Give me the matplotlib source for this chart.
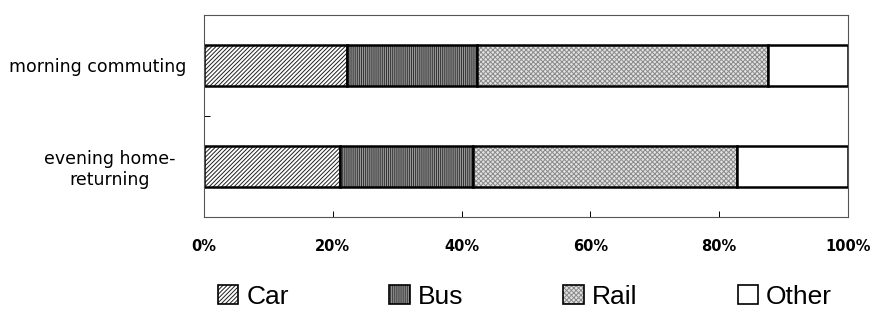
import numpy as np
import matplotlib.pyplot as plt
from matplotlib.colors import to_rgba


categories = ['evening home-\nreturning', 'morning commuting']
modes = ['Car', 'Bus', 'Rail', 'Other']
car = [21.1, 22.2]
bus = [20.6, 20.2]
rail = [41.1, 45.2]
other = [17.2, 12.4]
x_ticks = [0, 20, 40, 60, 80, 100]
x_labels = ['0%', '20%', '40%', '60%', '80%', '100%']

fills = ['white', '#9a9a9a', '#e2e2e2', 'white']
hatches = ['////////', '||||||||', 'xxxxxxx', '']
hatch_cols = ['#202020', '#303030', '#8a8a8a', 'black']

plt.rcParams['hatch.linewidth'] = 0.7

fig = plt.figure(figsize=(8.71, 3.09), dpi=100)
ax = fig.add_axes([204 / 871, 1 - 217 / 309, 644 / 871, 202 / 309])

y = np.arange(len(categories))
left = np.zeros(len(categories))
handles = []
for name, vals, fc, h, hc in zip(modes, [car, bus, rail, other], fills, hatches, hatch_cols):
    ax.barh(y, vals, left=left, height=0.41, color=fc, hatch=h,
            edgecolor=hc, linewidth=0)
    ax.barh(y, vals, left=left, height=0.41, fill=False,
            edgecolor='black', linewidth=1.8)
    p = plt.Rectangle((0, 0), 1, 1, facecolor=fc, hatch=h,
                      edgecolor='black', linewidth=1.2, label=name)
    # keep the hatch colour of the bars in the legend box
    p._hatch_color = to_rgba(hc)
    handles.append(p)
    left += np.array(vals)

ax.set_xlim(0, 100)
ax.set_ylim(-0.5, 1.5)
ax.set_xticks(x_ticks)
ax.set_xticklabels(x_labels, fontsize=10.5, fontweight='bold')
ax.set_yticks(y)
ax.set_yticklabels(categories, fontsize=12.5, linespacing=1.2)
label_x = [-0.146, -0.165]
for lab, lx in zip(ax.get_yticklabels(), label_x):
    lab.set_horizontalalignment('center')
    lab.set_x(lx)
ax.set_yticks([0.5], minor=True)
ax.tick_params(axis='y', which='major', length=0, pad=0)
ax.tick_params(axis='y', which='minor', direction='in', length=4, width=0.7)
ax.tick_params(axis='x', direction='in', length=4, width=0.7, pad=16)
for s in ax.spines.values():
    s.set_linewidth(0.8)
    s.set_color('#555555')

fig.legend(handles=handles, loc='center', bbox_to_anchor=(525 / 871, 1 - 297 / 309),
           ncol=4, frameon=False, handlelength=0.78, handleheight=0.75,
           handletextpad=0.3, columnspacing=3.8, borderaxespad=0,
           prop={'family': 'Liberation Sans', 'size': 19})

fig.savefig('out.png', dpi=100)
